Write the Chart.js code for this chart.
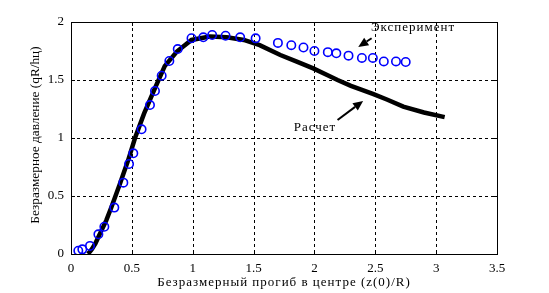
<!DOCTYPE html>
<html>
<head>
<meta charset="utf-8">
<script src="https://cdn.jsdelivr.net/npm/chart.js@4.4.1/dist/chart.umd.min.js"></script>
<style>
  html, body { margin: 0; padding: 0; background: #fff; }
  #wrap { width: 549px; height: 293px; }
</style>
</head>
<body>
<div id="wrap"><canvas id="chart"></canvas></div>
<script>
// experiment (circles)
var expX = [0.06, 0.093, 0.156, 0.225, 0.274, 0.356, 0.43, 0.477, 0.512, 0.58, 0.649, 0.69, 0.745, 0.808,
            0.877, 0.99, 1.087, 1.16, 1.27, 1.39, 1.517, 1.70, 1.81, 1.91, 2.00, 2.11, 2.18, 2.28, 2.39,
            2.48, 2.57, 2.67, 2.75];
var expY = [0.028, 0.04, 0.07, 0.17, 0.235, 0.40, 0.615, 0.776, 0.868, 1.075, 1.284, 1.405, 1.537, 1.664,
            1.767, 1.86, 1.868, 1.888, 1.882, 1.868, 1.859, 1.82, 1.80, 1.78, 1.75, 1.74, 1.73, 1.71, 1.69,
            1.69, 1.66, 1.66, 1.655];

// calculation (thick line)
var calcX = [0.14, 0.17, 0.2, 0.24, 0.29, 0.334, 0.40, 0.47, 0.526, 0.60, 0.69, 0.77, 0.87, 0.99, 1.14,
             1.28, 1.42, 1.55, 1.72, 1.85, 1.99, 2.1, 2.19, 2.3, 2.48, 2.6, 2.73, 2.9, 3.07];
var calcY = [0.0, 0.04, 0.09, 0.18, 0.29, 0.41, 0.60, 0.81, 1.0, 1.21, 1.43, 1.62, 1.745, 1.845, 1.875,
             1.868, 1.845, 1.80, 1.715, 1.66, 1.60, 1.545, 1.50, 1.45, 1.38, 1.33, 1.27, 1.22, 1.18];

var xTicks = [0, 0.5, 1, 1.5, 2, 2.5, 3, 3.5];
var yTicks = [0, 0.5, 1, 1.5, 2];

var xTitle = 'Безразмерный прогиб в центре (z(0)/R)';
var yTitle = 'Безразмерное давление (qR/hц)';

// text labels with arrows, in data units
var notes = [
  { text: 'Эксперимент', tx: 2.465, ty: 1.95, ax: [2.47, 1.86], ah: [2.36, 1.785] },
  { text: 'Расчет', tx: 1.83, ty: 1.086, ax: [2.19, 1.155], ah: [2.40, 1.32] }
];

function toPts(xs, ys) {
  var out = [];
  for (var i = 0; i < xs.length; i++) out.push({x: xs[i], y: ys[i]});
  return out;
}

var FONT = '"Liberation Serif", "Times New Roman", serif';

var matlabLook = {
  id: 'matlabLook',
  beforeDatasetsDraw: function(chart) {
    var ctx = chart.ctx, a = chart.chartArea;
    var xs = chart.scales.x, ys = chart.scales.y;
    ctx.save();
    ctx.strokeStyle = '#000';
    ctx.lineWidth = 1;
    ctx.setLineDash([3, 3]);
    ctx.beginPath();
    xTicks.forEach(function(v) {
      var p = Math.round(xs.getPixelForValue(v)) + 0.5;
      if (p <= a.left + 1 || p >= a.right - 1) return;
      ctx.moveTo(p, a.top); ctx.lineTo(p, a.bottom);
    });
    yTicks.forEach(function(v) {
      var p = Math.round(ys.getPixelForValue(v)) + 0.5;
      if (p <= a.top + 1 || p >= a.bottom - 1) return;
      ctx.moveTo(a.left, p); ctx.lineTo(a.right, p);
    });
    ctx.stroke();
    ctx.setLineDash([]);
    // inward ticks
    ctx.beginPath();
    xTicks.forEach(function(v) {
      var p = Math.round(xs.getPixelForValue(v)) + 0.5;
      ctx.moveTo(p, a.bottom); ctx.lineTo(p, a.bottom - 4);
      ctx.moveTo(p, a.top); ctx.lineTo(p, a.top + 4);
    });
    yTicks.forEach(function(v) {
      var p = Math.round(ys.getPixelForValue(v)) + 0.5;
      ctx.moveTo(a.left, p); ctx.lineTo(a.left + 4, p);
      ctx.moveTo(a.right, p); ctx.lineTo(a.right - 4, p);
    });
    ctx.stroke();
    ctx.strokeRect(Math.round(a.left) + 0.5, Math.round(a.top) + 0.5,
                   Math.round(a.right - a.left), Math.round(a.bottom - a.top));
    ctx.restore();
  },
  afterDraw: function(chart) {
    var ctx = chart.ctx, a = chart.chartArea;
    var xs = chart.scales.x, ys = chart.scales.y;
    ctx.save();
    ctx.fillStyle = '#000';
    ctx.strokeStyle = '#000';
    ctx.textBaseline = 'middle';
    ctx.textAlign = 'center';
    // y axis title
    ctx.font = '13.3px ' + FONT;
    ctx.save();
    ctx.translate(36, 135);
    ctx.rotate(-Math.PI / 2);
    ctx.fillText(yTitle, 0, 0);
    ctx.restore();
    // x axis title
    ctx.font = '13px ' + FONT;
    ctx.letterSpacing = '1px';
    ctx.fillText(xTitle, (a.left + a.right) / 2, 283);
    ctx.textAlign = 'left';
    notes.forEach(function(n) {
      ctx.fillText(n.text, xs.getPixelForValue(n.tx), ys.getPixelForValue(n.ty));
      var x0 = xs.getPixelForValue(n.ax[0]), y0 = ys.getPixelForValue(n.ax[1]);
      var x1 = xs.getPixelForValue(n.ah[0]), y1 = ys.getPixelForValue(n.ah[1]);
      var ang = Math.atan2(y1 - y0, x1 - x0);
      var L = 10, W = 4.5;
      var bx = x1 - L * Math.cos(ang), by = y1 - L * Math.sin(ang);
      ctx.lineWidth = 2;
      ctx.beginPath();
      ctx.moveTo(x0, y0); ctx.lineTo(bx, by);
      ctx.stroke();
      ctx.beginPath();
      ctx.moveTo(x1, y1);
      ctx.lineTo(bx + W * Math.sin(ang), by - W * Math.cos(ang));
      ctx.lineTo(bx - W * Math.sin(ang), by + W * Math.cos(ang));
      ctx.closePath();
      ctx.fill();
    });
    ctx.restore();
  }
};

new Chart(document.getElementById('chart'), {
  type: 'scatter',
  data: {
    datasets: [
      {
        label: 'Расчет',
        data: toPts(calcX, calcY),
        showLine: true,
        borderColor: '#000',
        borderWidth: 4.5,
        pointRadius: 0,
        tension: 0,
        borderCapStyle: 'butt',
        order: 2
      },
      {
        label: 'Эксперимент',
        data: toPts(expX, expY),
        showLine: false,
        pointStyle: 'circle',
        pointRadius: 4.2,
        pointBorderWidth: 1.6,
        pointBorderColor: '#0000ff',
        pointBackgroundColor: 'rgba(0,0,0,0)',
        order: 1
      }
    ]
  },
  options: {
    responsive: true,
    maintainAspectRatio: false,
    animation: false,
    events: [],
    layout: { padding: { left: 0, top: 22, right: 52, bottom: 0 } },
    plugins: { legend: { display: false }, tooltip: { enabled: false } },
    scales: {
      x: {
        type: 'linear',
        min: 0, max: 3.5,
        afterBuildTicks: function(s) { s.ticks = xTicks.map(function(v) { return {value: v}; }); },
        afterFit: function(s) { s.height = 39; },
        grid: { display: false, drawTicks: false },
        border: { display: false },
        ticks: { color: '#000', padding: 7, font: { family: FONT, size: 13 }, maxRotation: 0,
                 callback: function(v) { return String(v); } },
        title: { display: false }
      },
      y: {
        type: 'linear',
        min: 0, max: 2,
        afterBuildTicks: function(s) { s.ticks = yTicks.map(function(v) { return {value: v}; }); },
        afterFit: function(s) { s.width = 71; },
        grid: { display: false, drawTicks: false },
        border: { display: false },
        ticks: { color: '#000', padding: 7, font: { family: FONT, size: 13 },
                 callback: function(v) { return String(v); } },
        title: { display: false }
      }
    }
  },
  plugins: [matlabLook]
});
</script>
</body>
</html>
